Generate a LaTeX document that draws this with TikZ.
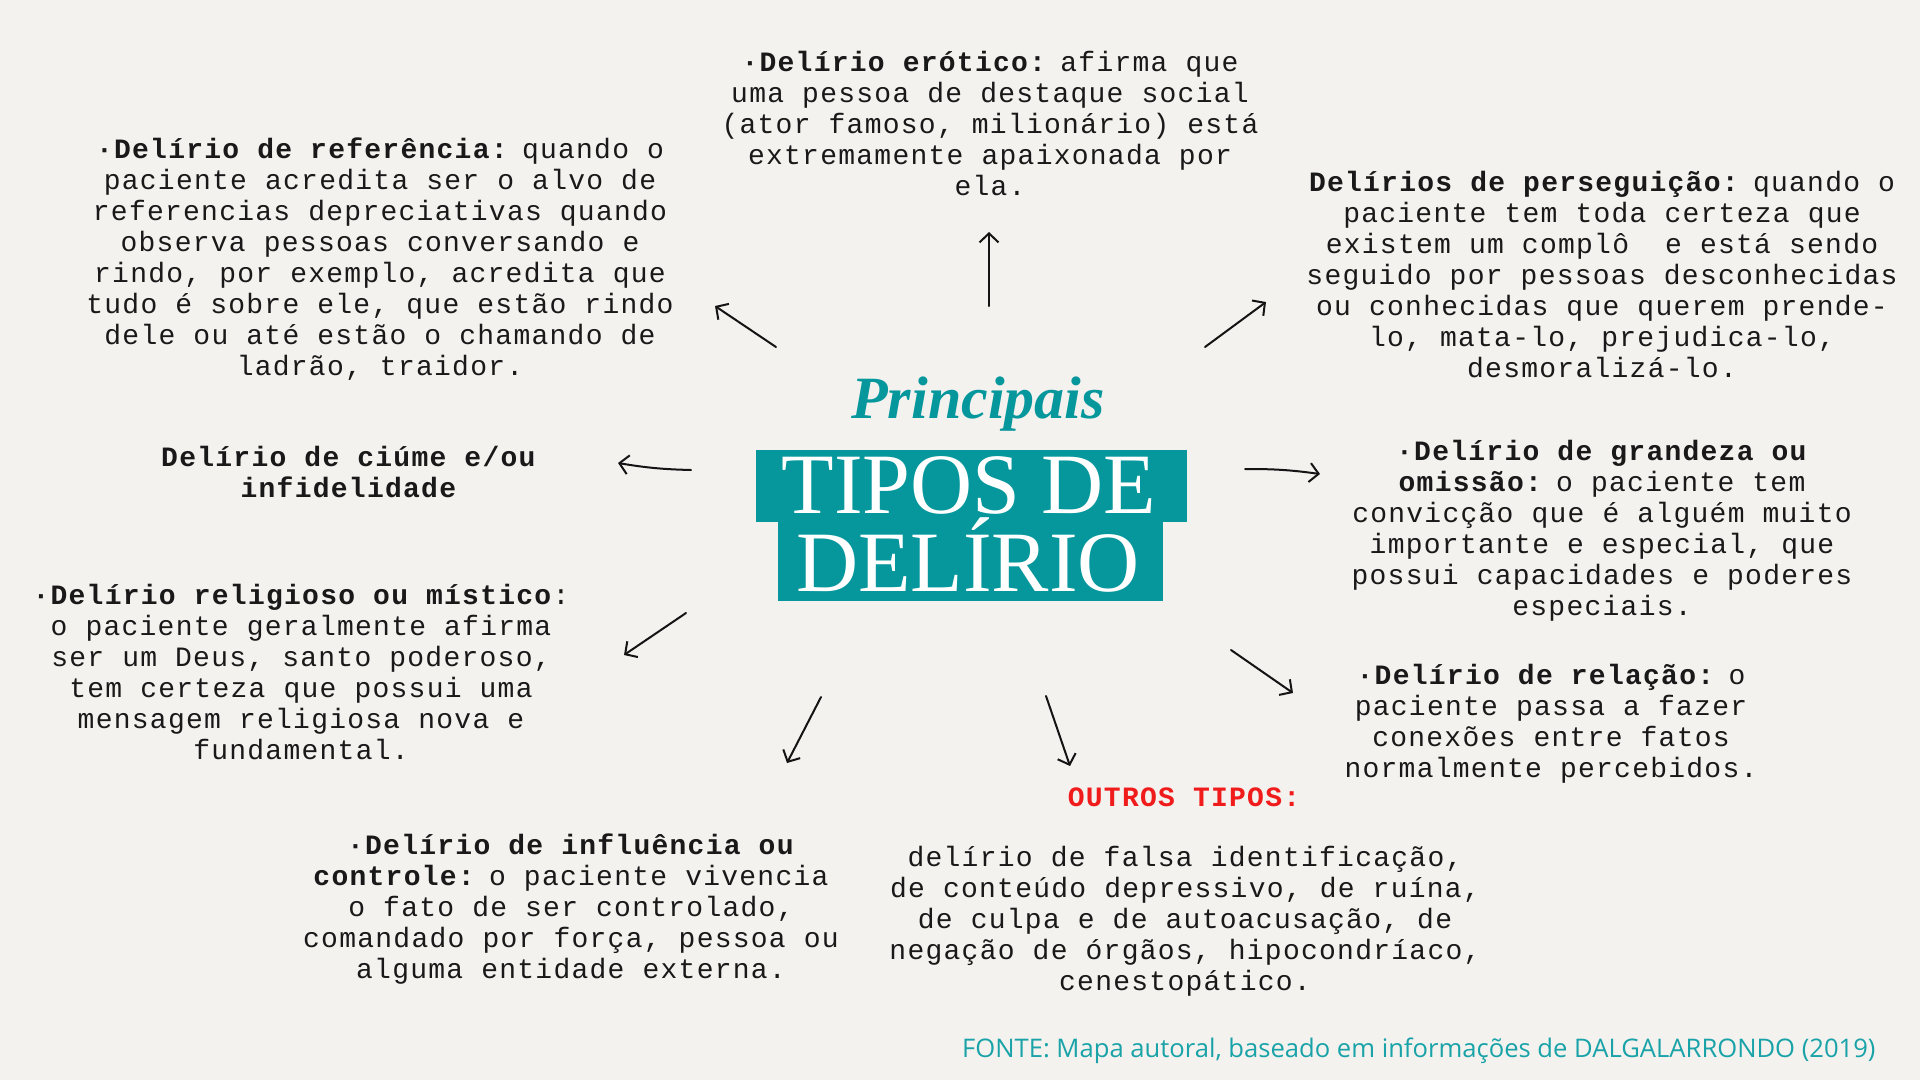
\documentclass[tikz,border=0pt]{standalone}
\usepackage{fontspec}
\setmainfont{Liberation Serif}
\newfontfamily\notefont[LetterSpace=4.5]{Liberation Mono}
\newfontfamily\sourcefont{Open Sans}
\usetikzlibrary{positioning,arrows.meta}
\definecolor{paper}{HTML}{F4F2EF}
\definecolor{titleteal}{HTML}{05979C}
\definecolor{sourceteal}{HTML}{19A3A8}
\definecolor{othersred}{HTML}{F01C1C}
\newcommand{\leadin}[1]{\textbf{#1}\kern-5pt\ }
\tikzset{
  notebox/.style={align=center, inner sep=0pt, text=black!90,
    font=\notefont\fontsize{28}{31}\selectfont},
  titlebar/.style={fill=titleteal, inner sep=0pt},
  titletext/.style={text=white, inner sep=0pt, font=\fontsize{86}{86}\selectfont},
  sketch/.style={-{Straight Barb[length=9pt, width=19pt]}, line width=2pt,
    line cap=round, draw=black!92},
}
\begin{document}
\begin{tikzpicture}[x=1pt, y=-1pt]
% paper
\fill[paper] (0,0) rectangle (1920,1080);
\useasboundingbox (0,0) rectangle (1920,1080);
% title
\node[titlebar, minimum width=431pt, minimum height=72pt] (bartop) at (971.5,486) {};
\node[titlebar, minimum width=385pt, minimum height=80pt] (barbot) at (970.5,561) {};
\node[font=\fontsize{60}{62}\selectfont\bfseries\itshape, text=titleteal, inner sep=0pt, anchor=base] (principais) at (978,418) {Principais};
\node[titletext, anchor=base] (tipos) at (969,513) {TIPOS DE};
\node[titletext, anchor=base] (delirio) at (968,591) {DEL\'IRIO};
% notes around the title
\node[notebox] (erotico) at (990,123) {\leadin{·Delírio erótico:}afirma que\\uma pessoa de destaque social\\(ator famoso, milionário) está\\extremamente apaixonada por\\ela.};
\node[notebox] (referencia) at (380,259) {\leadin{·Delírio de referência:}quando o\\paciente acredita ser o alvo de\\referencias depreciativas quando\\observa pessoas conversando e\\rindo, por exemplo, acredita que\\tudo é sobre ele, que estão rindo\\dele ou até estão o chamando de\\ladrão, traidor.};
\node[notebox] (perseguicao) at (1602,275) {\leadin{Delírios de perseguição:}quando o\\paciente tem toda certeza que\\existem um complô\ \ e está sendo\\seguido por pessoas desconhecidas\\ou conhecidas que querem prende-\\lo, mata-lo, prejudica-lo,\\desmoralizá-lo.};
\node[notebox] (ciume) at (349,472) {\textbf{Delírio de ciúme e/ou}\\\textbf{infidelidade}};
\node[notebox] (grandeza) at (1602,531) {\textbf{·Delírio de grandeza ou}\\\leadin{omissão:}o paciente tem\\convicção que é alguém muito\\importante e especial, que\\possui capacidades e poderes\\especiais.};
\node[notebox] (religioso) at (301,672) {\textbf{·Delírio religioso ou místico}:\\o paciente geralmente afirma\\ser um Deus, santo poderoso,\\tem certeza que possui uma\\mensagem religiosa nova e\\fundamental.};
\node[notebox] (relacao) at (1551,724) {\leadin{·Delírio de relação:}o\\paciente passa a fazer\\conexões entre fatos\\normalmente percebidos.};
\node[notebox, text=othersred, font=\notefont\bfseries\fontsize{28}{31}\selectfont] (outros) at (1184,797) {OUTROS TIPOS:};
\node[notebox] (outroslista) at (1185,921) {delírio de falsa identificação,\\de conteúdo depressivo, de ruína,\\de culpa e de autoacusação, de\\negação de órgãos, hipocondríaco,\\cenestopático.};
\node[notebox] (influencia) at (571,909) {\textbf{·Delírio de influência ou}\\\leadin{controle:}o paciente vivencia\\o fato de ser controlado,\\comandado por força, pessoa ou\\alguma entidade externa.};
% source
\node[anchor=base west, inner sep=0pt, text=sourceteal, font=\sourcefont\fontsize{25.6}{30}\selectfont] (fonte) at (962,1057) {FONTE: Mapa autoral, baseado em informações de DALGALARRONDO (2019)};
% hand drawn arrows
\coordinate (eroA) at (989,306);   \coordinate (eroB) at (989,232);
\coordinate (refA) at (776,347);   \coordinate (refB) at (715,306);
\coordinate (perA) at (1205,347);  \coordinate (perB) at (1266,302);
\coordinate (ciuA) at (691,470);   \coordinate (ciuB) at (618,463);
\coordinate (graA) at (1245,469);  \coordinate (graB) at (1320,474);
\coordinate (relA) at (686,613);   \coordinate (relB) at (624,655);
\coordinate (infA) at (821,697);   \coordinate (infB) at (787,763);
\coordinate (outA) at (1046,696);  \coordinate (outB) at (1070,766);
\coordinate (rcaA) at (1231,650);  \coordinate (rcaB) at (1293,693);
\draw[sketch] (eroA) -- (eroB);
\draw[sketch] (refA) -- (refB);
\draw[sketch] (perA) -- (perB);
\draw[sketch] (ciuA) to[bend left=4] (ciuB);
\draw[sketch] (graA) to[bend left=4] (graB);
\draw[sketch] (relA) -- (relB);
\draw[sketch] (infA) -- (infB);
\draw[sketch] (outA) -- (outB);
\draw[sketch] (rcaA) -- (rcaB);
\end{tikzpicture}
\end{document}
